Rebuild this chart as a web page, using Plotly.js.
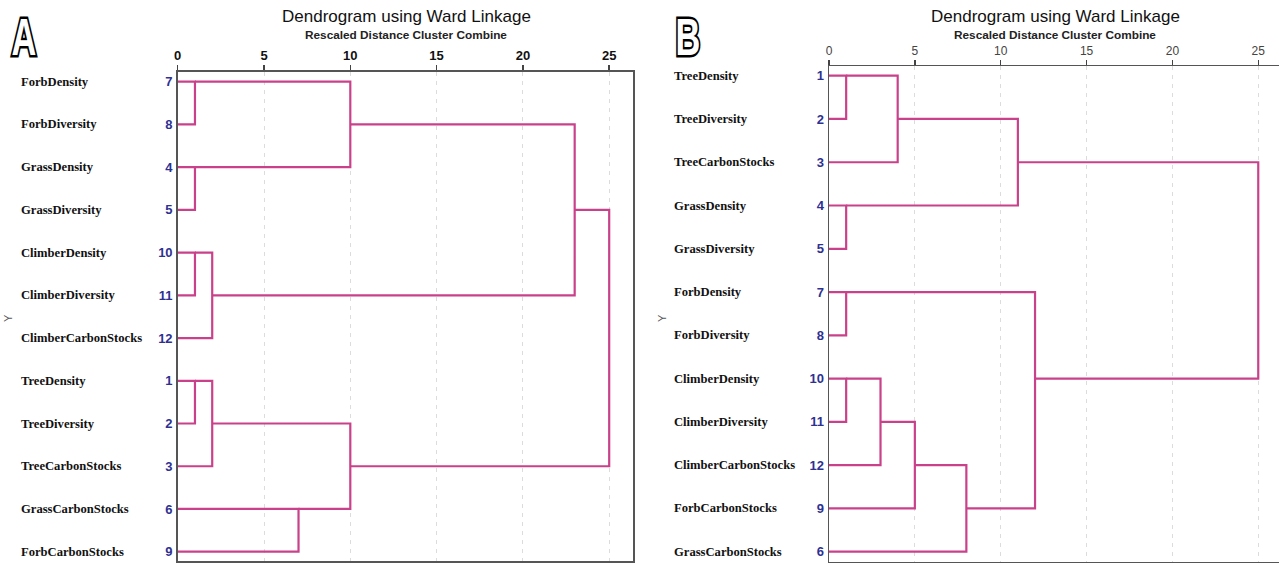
<!DOCTYPE html>
<html>
<head>
<meta charset="utf-8">
<script src="https://cdn.plot.ly/plotly-3.0.1.min.js"></script>
<style>
  html, body { margin: 0; padding: 0; background: #fff; }
  #chart { width: 1279px; height: 564px; }
</style>
</head>
<body>
<div id="chart"></div>
<script>
// ---------- Panel A data ----------
const namesA = ['ForbDensity','ForbDiversity','GrassDensity','GrassDiversity','ClimberDensity','ClimberDiversity','ClimberCarbonStocks','TreeDensity','TreeDiversity','TreeCarbonStocks','GrassCarbonStocks','ForbCarbonStocks'];
const casesA = ['7','8','4','5','10','11','12','1','2','3','6','9'];
// merges: [node a, node b, rescaled distance]; leaves are 0..11 (row order), new clusters get 12, 13, ...
const linkA = [
  [0, 1, 1],    // 12
  [2, 3, 1],    // 13
  [4, 5, 1],    // 14
  [7, 8, 1],    // 15
  [14, 6, 2],   // 16
  [15, 9, 2],   // 17
  [10, 11, 7],  // 18
  [12, 13, 10], // 19
  [17, 18, 10], // 20
  [19, 16, 23], // 21
  [21, 20, 25]  // 22
];

// ---------- Panel B data ----------
const namesB = ['TreeDensity','TreeDiversity','TreeCarbonStocks','GrassDensity','GrassDiversity','ForbDensity','ForbDiversity','ClimberDensity','ClimberDiversity','ClimberCarbonStocks','ForbCarbonStocks','GrassCarbonStocks'];
const casesB = ['1','2','3','4','5','7','8','10','11','12','9','6'];
const linkB = [
  [0, 1, 1],    // 12
  [3, 4, 1],    // 13
  [5, 6, 1],    // 14
  [7, 8, 1],    // 15
  [12, 2, 4],   // 16
  [15, 9, 3],   // 17
  [17, 10, 5],  // 18
  [18, 11, 8],  // 19
  [16, 13, 11], // 20
  [14, 19, 12], // 21
  [20, 21, 25]  // 22
];

const tickVals = [0, 5, 10, 15, 20, 25];
const titleText = 'Dendrogram using Ward Linkage';
const subText = 'Rescaled Distance Cluster Combine';

function buildSegments(n, links) {
  const pos = [];
  for (let i = 0; i < n; i++) pos.push({x: 0, y: i});
  const xs = [], ys = [];
  links.forEach(([a, b, d]) => {
    const A = pos[a], B = pos[b];
    xs.push(A.x, d, d, B.x, null);
    ys.push(A.y, A.y, B.y, B.y, null);
    pos.push({x: d, y: Math.floor((A.y + B.y) / 2)});
  });
  return {xs, ys};
}

const lineColor = '#c9418a';
const segA = buildSegments(namesA.length, linkA);
const segB = buildSegments(namesB.length, linkB);

const traces = [
  {x: segA.xs, y: segA.ys, xaxis: 'x', yaxis: 'y', mode: 'lines', type: 'scatter',
   line: {color: lineColor, width: 2.2}, hoverinfo: 'skip', showlegend: false},
  {x: segB.xs, y: segB.ys, xaxis: 'x2', yaxis: 'y2', mode: 'lines', type: 'scatter',
   line: {color: lineColor, width: 2.2}, hoverinfo: 'skip', showlegend: false}
];

const W = 1279, H = 564;
const narrow = 'Liberation Sans Narrow, Arial Narrow, Liberation Sans, Arial, sans-serif';
const serif = 'Liberation Serif, Times New Roman, serif';

const idx = namesA.map((_, i) => i);

const axisX = (dom, rng, bold, color, mirror) => ({
  domain: dom, range: rng, side: 'top', tickvals: tickVals,
  ticks: 'outside', ticklen: 5, tickwidth: 1.5, tickcolor: '#444',
  showline: true, linecolor: '#555', linewidth: 1.5, mirror: mirror,
  showgrid: true, gridcolor: '#dcdcdc', griddash: '4px,5px', gridwidth: 1,
  zeroline: false, fixedrange: true,
  tickfont: {family: narrow, size: bold ? 13 : 12, color: color, weight: bold ? 'bold' : 'normal'}
});

const axisY = (dom, rng, cases, mirror) => ({
  domain: dom, range: rng, tickvals: idx, ticktext: cases,
  ticks: '', showgrid: false, zeroline: false, fixedrange: true,
  showline: true, linecolor: '#555', linewidth: 1.5, mirror: mirror,
  ticklabelstandoff: 1,
  tickfont: {family: narrow, size: 13, color: '#2e3192', weight: 'bold'}
});

const annotations = [];
function addTitle(cx, yT, yS) {
  annotations.push({xref: 'paper', yref: 'paper', x: cx / W, y: 1 - yT / H, xanchor: 'center', yanchor: 'middle',
    text: titleText, showarrow: false, font: {family: 'Liberation Sans, Arial, sans-serif', size: 17, color: '#111'}});
  annotations.push({xref: 'paper', yref: 'paper', x: cx / W, y: 1 - yS / H, xanchor: 'center', yanchor: 'middle',
    text: subText, showarrow: false, font: {family: narrow, size: 11.8, color: '#222', weight: 'bold'}});
}
addTitle(406, 16, 35);
addTitle(1055, 16, 35);

namesA.forEach((nm, i) => annotations.push({xref: 'paper', yref: 'y', x: 19 / W, y: i, xanchor: 'left', yanchor: 'middle',
  text: nm, showarrow: false, font: {family: serif, size: 12.6, color: '#111', weight: 'bold'}}));
namesB.forEach((nm, i) => annotations.push({xref: 'paper', yref: 'y2', x: 672 / W, y: i, xanchor: 'left', yanchor: 'middle',
  text: nm, showarrow: false, font: {family: serif, size: 12.6, color: '#111', weight: 'bold'}}));

[[8, 318], [662, 318]].forEach(([px, py]) => annotations.push({xref: 'paper', yref: 'paper', x: px / W, y: 1 - py / H,
  xanchor: 'center', yanchor: 'middle', text: 'Y', textangle: -90, showarrow: false,
  font: {family: 'Liberation Sans, Arial, sans-serif', size: 11, color: '#555'}}));

[['A', 24], ['B', 688]].forEach(([t, px]) => annotations.push({xref: 'paper', yref: 'paper', x: px / W, y: 1 - 37 / H,
  xanchor: 'center', yanchor: 'middle', text: t, showarrow: false,
  font: {family: narrow, size: 52, color: '#ffffff', weight: 'bold'}}));

const layout = {
  width: W, height: H,
  margin: {l: 0, r: 0, t: 0, b: 0, pad: 0},
  paper_bgcolor: '#ffffff', plot_bgcolor: '#ffffff',
  showlegend: false,
  xaxis: axisX([177.7 / W, 633 / W], [0, (633 - 177.7) / 17.26], true, '#111', true),
  yaxis: axisY([(H - 561) / H, (H - 71.7) / H], [11 + 9.3 / 42.73, -10 / 42.73], casesA, true),
  xaxis2: axisX([829 / W, 1], [0, (1279 - 829) / 17.17], false, '#444', true),
  yaxis2: axisY([(H - 561.7) / H, (H - 66) / H], [11 + 10 / 43.27, -9.7 / 43.27], casesB, false),
  annotations: annotations
};
layout.yaxis2.anchor = 'x2';
layout.xaxis2.anchor = 'y2';

Plotly.newPlot('chart', traces, layout, {staticPlot: true, displayModeBar: false}).then(() => {
  document.querySelectorAll('.annotation-text').forEach(el => {
    const t = el.textContent.trim();
    if (t === 'A' || t === 'B') {
      el.style.stroke = '#000';
      el.style.strokeWidth = '5px';
      el.style.paintOrder = 'stroke';
      el.style.strokeLinejoin = 'miter';
      const bb = el.getBBox();
      const cx = bb.x + bb.width / 2;
      el.setAttribute('transform', `translate(${cx},0) scale(0.66,1) translate(${-cx},0)`);
    }
  });
});
</script>
</body>
</html>
